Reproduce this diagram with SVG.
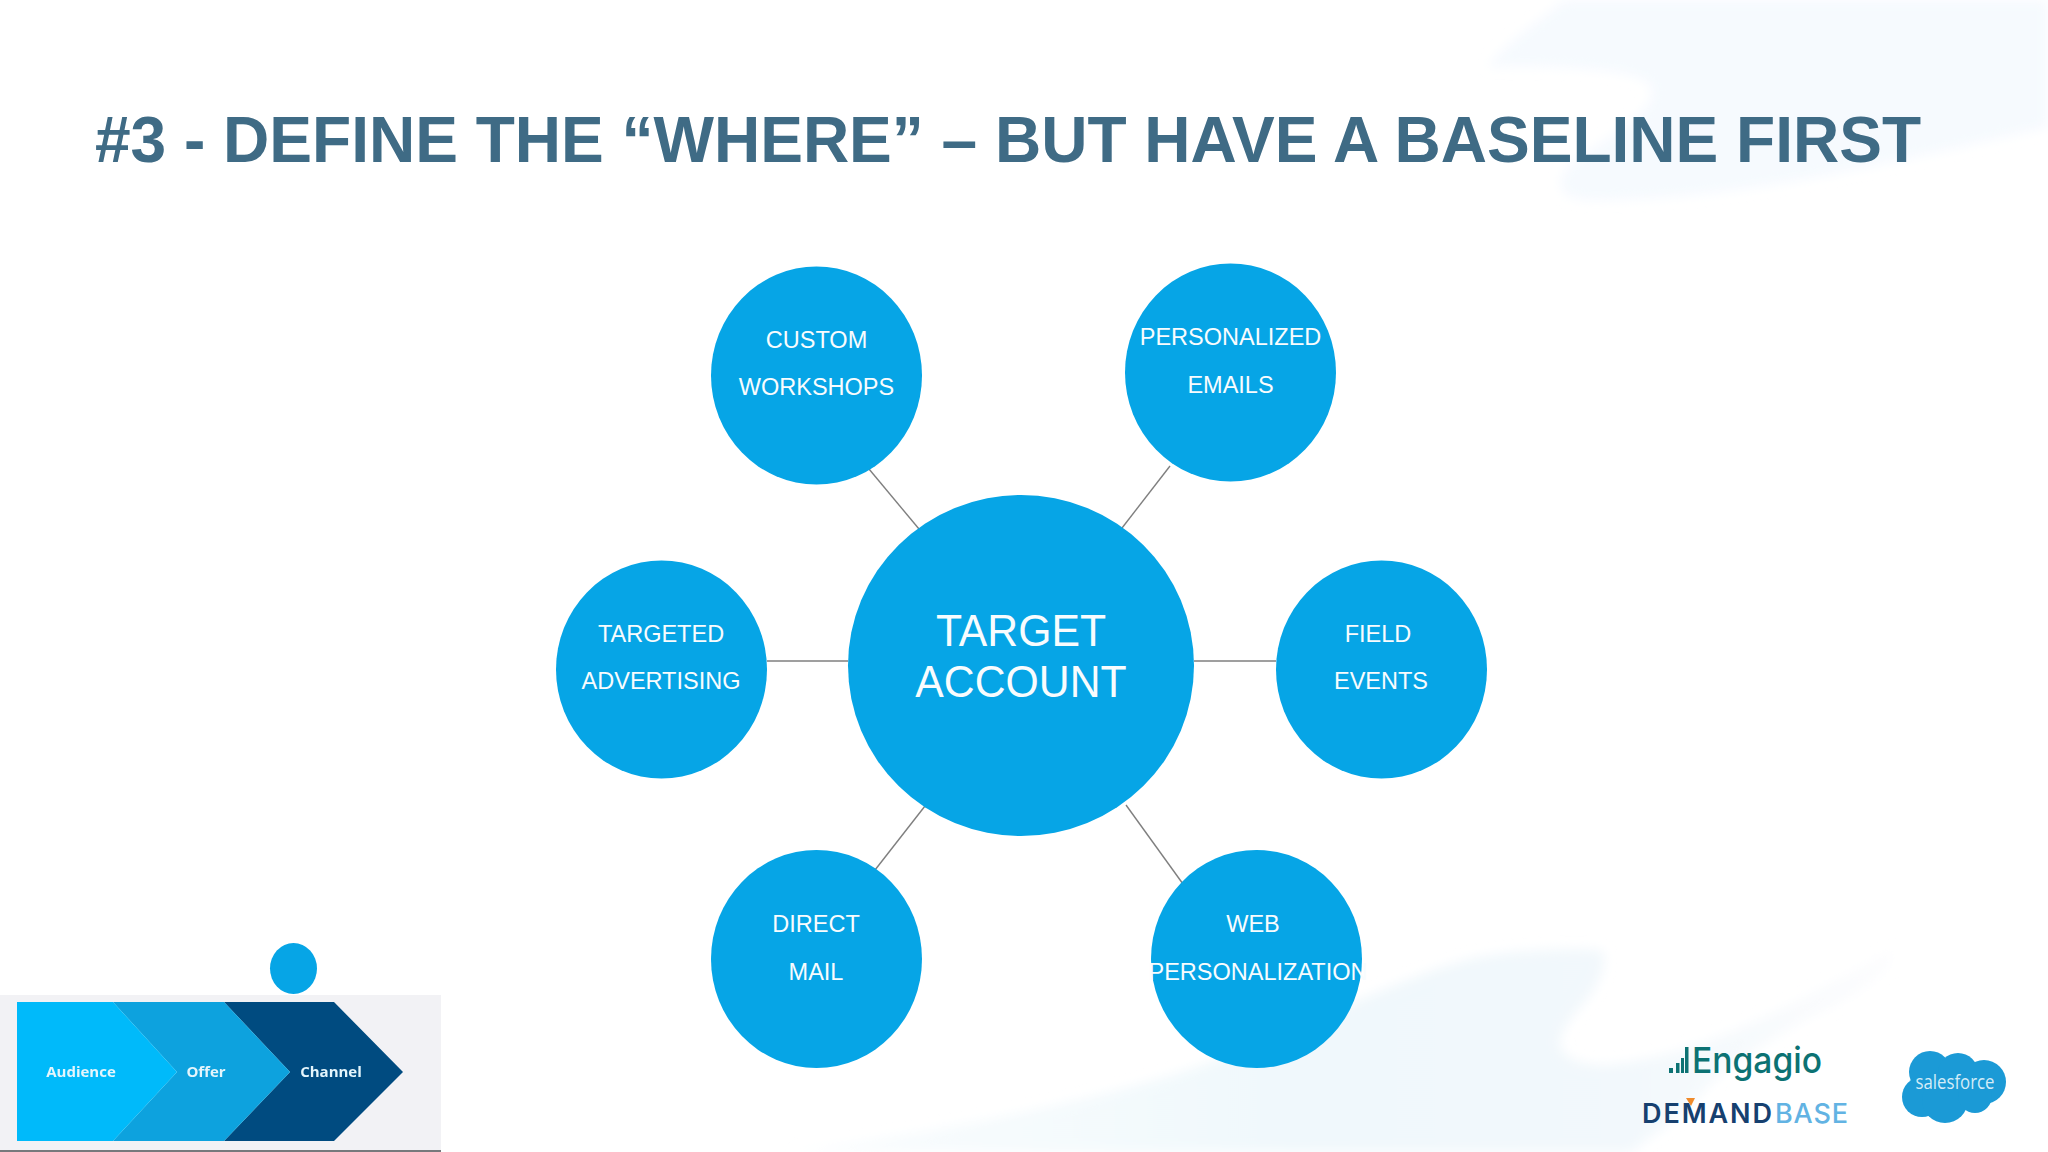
<svg xmlns="http://www.w3.org/2000/svg" width="2048" height="1152" viewBox="0 0 2048 1152">
<defs>
<style>
.b{fill:#06a5e6}
.t{font-family:"Liberation Sans",Arial,sans-serif;fill:#f8fcfe;font-size:24.500px;text-anchor:middle}
.c{font-size:45px}
.l{stroke:#7f7f7f;stroke-width:1.4;fill:none}
</style>
<linearGradient id="fadeB" gradientUnits="userSpaceOnUse" x1="790" y1="0" x2="1900" y2="0">
<stop offset="0" stop-color="#fafdfe"/><stop offset=".45" stop-color="#f0f8fc"/><stop offset=".75" stop-color="#f2f8fc"/><stop offset="1" stop-color="#fdfdfe"/>
</linearGradient>
<filter id="bl" x="-10%" y="-10%" width="120%" height="120%"><feGaussianBlur stdDeviation="6"/></filter>
<filter id="s" x="-10%" y="-10%" width="120%" height="120%"><feGaussianBlur stdDeviation="0.6"/></filter>
</defs>
<rect width="2048" height="1152" fill="#fff"/>
<g id="background" filter="url(#bl)">
<path fill="#f6fafe" d="M1565,0 L2048,0 L2048,127 C1900,160 1750,200 1590,200 C1555,200 1555,180 1570,165 C1600,140 1665,110 1650,85 C1640,68 1540,65 1487,67 C1510,40 1540,20 1565,0Z"/>
<path fill="url(#fadeB)" d="M790,1152 C950,1130 1100,1100 1197,1067 C1290,1035 1400,975 1479,957 C1520,950 1570,948 1601,950 C1610,960 1600,985 1582,1005 C1565,1025 1555,1040 1562,1050 C1575,1068 1610,1068 1640,1060 C1700,1050 1770,1020 1891,950 C1900,960 1880,985 1810,1017 C1770,1040 1720,1070 1700,1095 C1680,1120 1650,1135 1632,1152Z"/>
</g>
<text id="title" x="95" y="162" textLength="1826" lengthAdjust="spacingAndGlyphs" font-family="'Liberation Sans',Arial,sans-serif" font-weight="700" font-size="65.400" fill="#3f6b85">#3 - DEFINE THE “WHERE” – BUT HAVE A BASELINE FIRST</text>
<g id="connectors">
<line class="l" x1="869" y1="469" x2="919" y2="529"/>
<line class="l" x1="1170" y1="466" x2="1122" y2="528"/>
<line class="l" x1="767" y1="661" x2="848" y2="661"/>
<line class="l" x1="1194" y1="661" x2="1276" y2="661"/>
<line class="l" x1="925" y1="806" x2="875" y2="870"/>
<line class="l" x1="1126" y1="805" x2="1183" y2="884"/>
</g>
<g id="node-center"><ellipse class="b" cx="1021" cy="665.500" rx="173" ry="170.500"/><text class="t c" transform="matrix(.95 0 0 1 1021 646)">TARGET</text><text class="t c" transform="matrix(.95 0 0 1 1021 697)">ACCOUNT</text></g>
<g id="node-workshops"><ellipse class="b" cx="816.500" cy="375.500" rx="105.500" ry="109"/><text class="t" transform="matrix(.96 0 0 1 816.500 348)">CUSTOM</text><text class="t" transform="matrix(.96 0 0 1 816.500 395)">WORKSHOPS</text></g>
<g id="node-emails"><ellipse class="b" cx="1230.500" cy="372.500" rx="105.500" ry="109"/><text class="t" transform="matrix(.96 0 0 1 1230.500 345)">PERSONALIZED</text><text class="t" transform="matrix(.96 0 0 1 1230.500 393)">EMAILS</text></g>
<g id="node-advertising"><ellipse class="b" cx="661.500" cy="669.500" rx="105.500" ry="109"/><text class="t" transform="matrix(.96 0 0 1 661 642)">TARGETED</text><text class="t" transform="matrix(.96 0 0 1 661 689)">ADVERTISING</text></g>
<g id="node-events"><ellipse class="b" cx="1381.500" cy="669.500" rx="105.500" ry="109"/><text class="t" transform="matrix(.96 0 0 1 1378 642)">FIELD</text><text class="t" transform="matrix(.96 0 0 1 1381 689)">EVENTS</text></g>
<g id="node-mail"><ellipse class="b" cx="816.500" cy="959" rx="105.500" ry="109"/><text class="t" transform="matrix(.96 0 0 1 816 932)">DIRECT</text><text class="t" transform="matrix(.96 0 0 1 816 980)">MAIL</text></g>
<g id="node-web"><ellipse class="b" cx="1256.500" cy="959" rx="105.500" ry="109"/><text class="t" transform="matrix(.96 0 0 1 1253 932)">WEB</text><text class="t" transform="matrix(.96 0 0 1 1258 980)">PERSONALIZATION</text></g>
<g id="node-dot"><ellipse class="b" cx="293.500" cy="968.500" rx="23.500" ry="25.500"/></g>
<g id="chevrons">
<rect x="0" y="995" width="441" height="155" fill="#f2f2f5"/>
<rect x="0" y="1150" width="441" height="2" fill="#77797c"/>
<g filter="url(#s)">
<polygon points="334,1002 403,1072 334,1141 224,1141 290,1072 224,1002" fill="#034c80"/>
<polygon points="224,1002 290,1072 224,1141 113,1141 177,1072 113,1002" fill="#09a2de"/>
<polygon points="17,1002 113,1002 177,1072 113,1141 17,1141" fill="#01bafa"/>
</g>
<g filter="url(#s)" font-family="'Open Sans','Noto Sans',sans-serif" font-weight="700" font-size="15" fill="#e4f5fc" text-anchor="middle">
<text x="81" y="1077">Audience</text><text x="206" y="1077">Offer</text><text x="331" y="1077">Channel</text>
</g>
</g>
<g id="logo-engagio" fill="#0c7273">
<rect x="1669" y="1068" width="4" height="5"/><rect x="1676" y="1063" width="3.500" height="10"/><rect x="1681" y="1058" width="3" height="15"/><rect x="1685" y="1047" width="3.500" height="26"/>
<text x="1692" y="1073" textLength="130" lengthAdjust="spacingAndGlyphs" font-family="Inter,'Open Sans',sans-serif" font-size="36" font-weight="500">Engagio</text>
</g>
<g id="logo-demandbase" font-family="Inter,'Open Sans',sans-serif" font-size="27">
<text x="1642" y="1123" textLength="130" font-weight="600" fill="#16406f">DEMAND</text>
<text x="1775" y="1123" textLength="73" font-weight="500" fill="#62b3e3">BASE</text>
<polygon points="1686,1098 1695,1098 1691,1106" fill="#ef8b2c"/>
</g>
<g id="logo-salesforce">
<g fill="#1b9ad6"><circle cx="1930" cy="1072" r="21"/><circle cx="1958" cy="1073" r="20"/><circle cx="1984" cy="1082" r="22"/><circle cx="1922" cy="1097" r="20"/><circle cx="1945" cy="1100" r="23"/><circle cx="1975" cy="1096" r="17"/></g>
<text x="1955" y="1089" textLength="79" lengthAdjust="spacingAndGlyphs" font-family="'Open Sans',sans-serif" font-size="20" fill="#d4ecf8" text-anchor="middle">salesforce</text>
</g>
</svg>
